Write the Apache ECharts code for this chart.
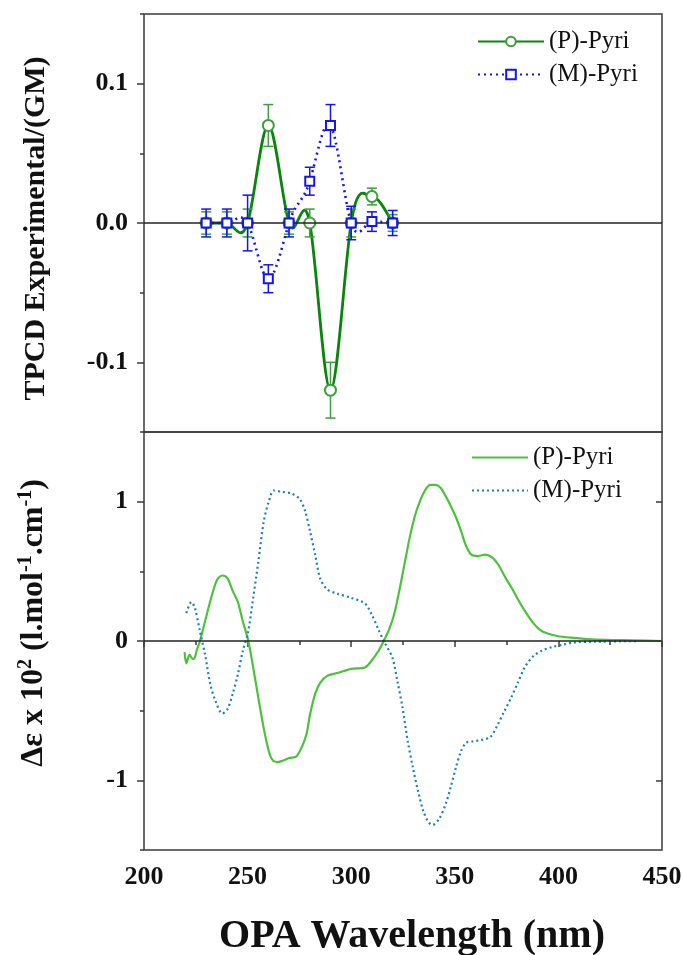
<!DOCTYPE html>
<html>
<head>
<meta charset="utf-8">
<script src="https://cdn.jsdelivr.net/npm/echarts@6/dist/echarts.min.js"></script>
<style>
html,body{margin:0;padding:0;background:#fff;}
#chart{width:683px;height:955px;}
</style>
</head>
<body>
<div id="chart"></div>
<script>
// ---------- DATA ----------
// Top panel: TPCD experimental (GM)
const tpcdWavelength = [230, 240, 250, 260, 270, 280, 290, 300, 310, 320];
const tpcdP    = [0, 0, 0, 0.07, 0, 0, -0.12, 0, 0.019, 0];
const tpcdPErr = [0.008, 0.008, 0.01, 0.015, 0.008, 0.01, 0.02, 0.01, 0.006, 0.006];
const tpcdM    = [0, 0, 0, -0.04, 0, 0.03, 0.07, 0, 0.001, 0];
const tpcdMErr = [0.01, 0.01, 0.02, 0.01, 0.01, 0.01, 0.015, 0.012, 0.007, 0.009];

// Bottom panel: CD spectra (Δε x 10^2)
const cdWavelengthP = [219.6, 220.4, 222.0, 223.6, 224.5, 225.4, 227.0, 230.3, 232.8, 235.3, 237.8, 240.3, 242.8, 245.3, 247.7, 250.2, 252.7, 255.2, 257.7, 260.2, 261.8, 264.0, 266.8, 270.1, 273.4, 275.9, 278.4, 280.1, 282.6, 285.0, 288.4, 293.3, 300.0, 306.6, 309.9, 313.2, 315.7, 318.2, 320.7, 323.2, 325.7, 328.2, 330.6, 333.1, 335.6, 338.1, 340.6, 343.1, 345.6, 348.0, 350.5, 353.0, 355.5, 358.0, 361.3, 364.6, 368.0, 371.3, 374.6, 377.9, 381.2, 384.5, 387.8, 391.1, 394.5, 399.4, 406, 416, 426, 436, 450];
const cdP = [-0.08, -0.16, -0.10, -0.13, -0.12, -0.07, 0.00, 0.19, 0.33, 0.44, 0.47, 0.45, 0.36, 0.28, 0.14, 0.01, -0.19, -0.41, -0.62, -0.79, -0.85, -0.87, -0.86, -0.84, -0.83, -0.77, -0.67, -0.53, -0.38, -0.30, -0.25, -0.23, -0.20, -0.19, -0.14, -0.07, 0.00, 0.08, 0.19, 0.36, 0.55, 0.74, 0.89, 1.00, 1.08, 1.12, 1.12, 1.10, 1.04, 0.97, 0.89, 0.79, 0.68, 0.62, 0.61, 0.62, 0.60, 0.54, 0.45, 0.37, 0.28, 0.20, 0.13, 0.08, 0.055, 0.036, 0.024, 0.012, 0.007, 0.005, 0.0];
const cdWavelengthM = [220.4, 222.9, 224.5, 227.0, 229.5, 232.0, 234.5, 237.8, 240.3, 242.8, 245.3, 247.7, 250.2, 252.7, 255.2, 257.7, 260.2, 262.7, 266.8, 271.0, 275.1, 277.6, 280.1, 282.6, 285.0, 288.4, 293.3, 300.0, 306.6, 309.9, 313.2, 315.7, 319.9, 322.3, 324.8, 327.3, 329.8, 332.3, 334.8, 337.3, 339.3, 342.3, 345.6, 348.0, 350.5, 353.0, 355.5, 358.8, 363.0, 367.1, 370.4, 373.7, 377.1, 380.4, 383.7, 387.8, 392.0, 397.0, 402.8, 407.7, 417.7, 438.4];
const cdM = [0.20, 0.28, 0.24, 0.07, -0.10, -0.31, -0.43, -0.52, -0.49, -0.38, -0.24, -0.07, 0.06, 0.31, 0.57, 0.85, 1.00, 1.08, 1.07, 1.06, 1.02, 0.94, 0.79, 0.62, 0.45, 0.37, 0.34, 0.31, 0.27, 0.19, 0.08, 0.00, -0.12, -0.29, -0.48, -0.72, -0.91, -1.08, -1.22, -1.30, -1.32, -1.28, -1.17, -1.05, -0.91, -0.79, -0.73, -0.72, -0.71, -0.69, -0.61, -0.51, -0.41, -0.30, -0.19, -0.11, -0.07, -0.043, -0.024, -0.01, -0.005, 0.0];

// Tick labels
const xTicks = [200, 250, 300, 350, 400, 450];
const topYTicks = [-0.1, 0.0, 0.1];
const bottomYTicks = [-1, 0, 1];
const seriesNames = ['(P)-Pyri', '(M)-Pyri'];

// ---------- STYLE ----------
const FONT = 'Liberation Serif';
const C = {
  topP: '#0b840b', topPMarker: '#3c9e3c', topM: '#1414f0',
  botP: '#4cc23c', botM: '#1f7fbe', frame: '#3a3a3a'
};

function pairs(xs, ys) { return xs.map((x, i) => [x, ys[i]]); }
function errData(xs, ys, es) { return xs.map((x, i) => [x, ys[i] - es[i], ys[i] + es[i]]); }
function errBar(color) {
  return function (params, api) {
    const x = api.value(0);
    const lo = api.coord([x, api.value(1)]);
    const hi = api.coord([x, api.value(2)]);
    const w = 5;
    const st = { stroke: color, lineWidth: 1.5, fill: null };
    return {
      type: 'group',
      children: [
        { type: 'line', shape: { x1: lo[0], y1: lo[1], x2: hi[0], y2: hi[1] }, style: st },
        { type: 'line', shape: { x1: lo[0] - w, y1: lo[1], x2: lo[0] + w, y2: lo[1] }, style: st },
        { type: 'line', shape: { x1: hi[0] - w, y1: hi[1], x2: hi[0] + w, y2: hi[1] }, style: st }
      ]
    };
  };
}
// Cardinal (Hermite) spline drawn through the axis-mapped points (rendering only)
function cardinalPath(pts, k) {
  const n = pts.length;
  const m = pts.map((p, i) => {
    const a = pts[Math.max(0, i - 1)], b = pts[Math.min(n - 1, i + 1)];
    return k * (b[1] - a[1]) / (b[0] - a[0]);
  });
  let path = 'M' + pts[0][0] + ' ' + pts[0][1];
  for (let i = 0; i < n - 1; i++) {
    const h = pts[i + 1][0] - pts[i][0];
    path += ' C' + (pts[i][0] + h / 3) + ' ' + (pts[i][1] + m[i] * h / 3) + ' ' +
      (pts[i + 1][0] - h / 3) + ' ' + (pts[i + 1][1] - m[i + 1] * h / 3) + ' ' +
      pts[i + 1][0] + ' ' + pts[i + 1][1];
  }
  return path;
}
function splineSeries(xs, ys, color, width, dash, z) {
  return {
    type: 'custom', xAxisIndex: 0, yAxisIndex: 0, silent: true, z: z,
    data: [[xs[0], ys[0]]],
    renderItem: function (params, api) {
      const pts = xs.map((x, i) => api.coord([x, ys[i]]));
      return { type: 'path', shape: { pathData: cardinalPath(pts, 1.35) },
        style: { stroke: color, lineWidth: width, fill: 'none', lineDash: dash || null } };
    }
  };
}

const tickLabel = { fontFamily: FONT, fontWeight: 'bold', fontSize: 26, color: '#111' };
const zeroLine = {
  silent: true, symbol: 'none', label: { show: false },
  lineStyle: { color: '#222', width: 1.5, type: 'solid' },
  data: [{ yAxis: 0 }]
};

const option = {
  backgroundColor: '#fff',
  animation: false,
  grid: [
    { left: 144, right: 21, top: 14, height: 418, outerBoundsMode: 'none', containLabel: false,
      show: true, borderColor: C.frame, borderWidth: 1.5, backgroundColor: 'transparent' },
    { left: 144, right: 21, top: 432, height: 418, outerBoundsMode: 'none', containLabel: false,
      show: true, borderColor: C.frame, borderWidth: 1.5, backgroundColor: 'transparent' }
  ],
  legend: [
    {
      left: 472, top: 24, orient: 'vertical', itemWidth: 66, itemHeight: 12, itemGap: 8,
      data: [seriesNames[0], seriesNames[1]],
      lineStyle: { opacity: 1 },
      textStyle: { fontFamily: FONT, fontSize: 25, color: '#111' }
    },
    {
      left: 466, top: 440, orient: 'vertical', itemWidth: 56, itemHeight: 12, itemGap: 8,
      itemStyle: { opacity: 0 },
      data: [seriesNames[0] + ' ', seriesNames[1] + ' '],
      formatter: n => n.trim(),
      textStyle: { fontFamily: FONT, fontSize: 25, color: '#111' }
    }
  ],
  xAxis: [
    { gridIndex: 0, type: 'value', min: 200, max: 450, interval: 50, position: 'bottom',
      axisLine: { show: false }, axisTick: { show: false }, axisLabel: { show: false }, splitLine: { show: false } },
    { gridIndex: 1, type: 'value', min: 200, max: 450, interval: 50, position: 'bottom',
      axisLine: { show: false },
      axisTick: { show: true, inside: false, length: 6, lineStyle: { color: C.frame, width: 1.5 } },
      minorTick: { show: true, splitNumber: 2, length: 4, lineStyle: { color: C.frame, width: 1.5 } },
      axisLabel: Object.assign({ margin: 14, formatter: v => String(v), customValues: xTicks }, tickLabel),
      splitLine: { show: false },
      name: 'OPA Wavelength (nm)', nameLocation: 'middle', nameGap: 67,
      nameTextStyle: { fontFamily: FONT, fontWeight: 'bold', fontSize: 40, color: '#111', padding: [0, 0, 0, 18] } },
    { gridIndex: 1, type: 'value', min: 200, max: 450, interval: 50, position: 'top',
      axisLine: { show: false },
      axisTick: { show: true, inside: true, length: 6, lineStyle: { color: C.frame, width: 1.5 } },
      minorTick: { show: true, splitNumber: 2, length: 4, lineStyle: { color: C.frame, width: 1.5 } },
      axisLabel: { show: false }, splitLine: { show: false } }
  ],
  yAxis: [
    { gridIndex: 0, type: 'value', min: -0.15, max: 0.15, position: 'left',
      axisLine: { show: false },
      axisTick: { show: true, length: 7, customValues: topYTicks, lineStyle: { color: C.frame, width: 1.5 } },
      axisLabel: Object.assign({ margin: 16, customValues: topYTicks, formatter: v => Number(v).toFixed(1) }, tickLabel),
      splitLine: { show: false },
      name: 'TPCD Experimental/(GM)', nameLocation: 'middle', nameGap: 93,
      nameTextStyle: { fontFamily: FONT, fontWeight: 'bold', fontSize: 30, color: '#111', padding: [0, 11, 0, 0] } },
    { gridIndex: 0, type: 'value', min: -0.15, max: 0.15, interval: 0.05, position: 'left',
      axisLine: { show: false },
      axisTick: { show: true, length: 4, lineStyle: { color: C.frame, width: 1.5 } },
      axisLabel: { show: false }, splitLine: { show: false } },
    { gridIndex: 1, type: 'value', min: -1.5, max: 1.5, position: 'left',
      axisLine: { show: false },
      axisTick: { show: true, length: 7, customValues: bottomYTicks, lineStyle: { color: C.frame, width: 1.5 } },
      axisLabel: Object.assign({ margin: 16, customValues: bottomYTicks, formatter: v => String(Math.round(v)) }, tickLabel),
      splitLine: { show: false },
      name: '{a|Δε x 10}{s|2}{a| (l.mol}{s|-1}{a|.cm}{s|-1}{a|)}',
      nameLocation: 'middle', nameGap: 93,
      nameTextStyle: {
        fontFamily: FONT, fontWeight: 'bold', fontSize: 32, color: '#111', padding: [0, 0, 0, 36],
        rich: {
          a: { fontFamily: FONT, fontWeight: 'bold', fontSize: 32, color: '#111', lineHeight: 35 },
          s: { fontFamily: FONT, fontWeight: 'bold', fontSize: 20, color: '#111', verticalAlign: 'top', lineHeight: 35 }
        }
      } },
    { gridIndex: 1, type: 'value', min: -1.5, max: 1.5, interval: 0.5, position: 'left',
      axisLine: { show: false },
      axisTick: { show: true, length: 4, lineStyle: { color: C.frame, width: 1.5 } },
      axisLabel: { show: false }, splitLine: { show: false } },
    { gridIndex: 1, type: 'value', min: -1.5, max: 1.5, position: 'right',
      axisLine: { show: false },
      axisTick: { show: true, inside: true, length: 6, customValues: bottomYTicks, lineStyle: { color: C.frame, width: 1.5 } },
      axisLabel: { show: false, customValues: bottomYTicks }, splitLine: { show: false } }
  ],
  series: [
    // top panel: curves (spline through the points), markers, error bars
    splineSeries(tpcdWavelength, tpcdP, C.topP, 2.8, null, 3),
    splineSeries(tpcdWavelength, tpcdM, C.topM, 2.6, [2, 4], 4),
    { name: seriesNames[0], type: 'line', xAxisIndex: 0, yAxisIndex: 0,
      data: pairs(tpcdWavelength, tpcdP), symbol: 'emptyCircle', symbolSize: 11,
      lineStyle: { color: C.topP, width: 2.8, opacity: 0 },
      itemStyle: { color: C.topPMarker, borderColor: C.topPMarker, borderWidth: 1.3 },
      markLine: zeroLine, z: 3 },
    { name: seriesNames[0] + '_err', type: 'custom', xAxisIndex: 0, yAxisIndex: 0,
      data: errData(tpcdWavelength, tpcdP, tpcdPErr), renderItem: errBar(C.topPMarker),
      encode: { x: 0, y: [1, 2] }, z: 3 },
    { name: seriesNames[1], type: 'line', xAxisIndex: 0, yAxisIndex: 0,
      data: pairs(tpcdWavelength, tpcdM), symbol: 'emptyRect', symbolSize: 9,
      lineStyle: { color: C.topM, width: 2.6, type: [2, 4], opacity: 0 },
      itemStyle: { color: C.topM, borderColor: C.topM, borderWidth: 1.5 }, z: 5 },
    { name: seriesNames[1] + '_err', type: 'custom', xAxisIndex: 0, yAxisIndex: 0,
      data: errData(tpcdWavelength, tpcdM, tpcdMErr), renderItem: errBar(C.topM),
      encode: { x: 0, y: [1, 2] }, z: 5 },
    // bottom panel
    { name: seriesNames[0] + ' ', type: 'line', xAxisIndex: 1, yAxisIndex: 2, smooth: 0.3,
      data: pairs(cdWavelengthP, cdP), symbol: 'none', showSymbol: false,
      lineStyle: { color: C.botP, width: 2.2 }, itemStyle: { color: C.botP },
      markLine: zeroLine, z: 3 },
    { name: seriesNames[1] + ' ', type: 'line', xAxisIndex: 1, yAxisIndex: 2, smooth: 0.3,
      data: pairs(cdWavelengthM, cdM), symbol: 'none', showSymbol: false,
      lineStyle: { color: C.botM, width: 2.2, type: [2, 3] }, itemStyle: { color: C.botM }, z: 3 }
  ]
};

const chart = echarts.init(document.getElementById('chart'), null, { renderer: 'canvas' });
chart.setOption(option);
</script>
</body>
</html>
